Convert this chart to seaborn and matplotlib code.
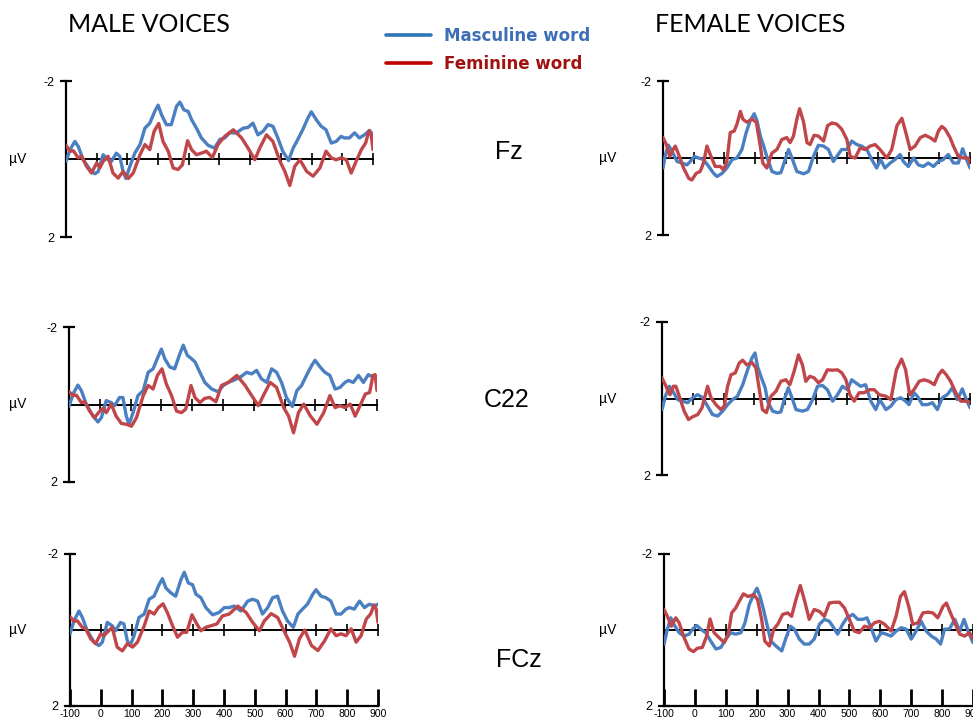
import matplotlib
matplotlib.use("Agg")
import matplotlib.pyplot as plt
from matplotlib.lines import Line2D
import numpy as np
import pandas as pd
import seaborn as sns

sns.set_theme(style="white", rc={"axes.edgecolor": "black", "xtick.color": "black",
                                 "ytick.color": "black", "text.color": "black"})
plt.rcParams["font.family"] = ["Liberation Sans", "DejaVu Sans"]

# ---------------- data (µV, negative plotted up) ----------------
conditions = ["Masculine word", "Feminine word"]
electrodes = ["Fz", "C22", "FCz"]
voice_titles = ["MALE VOICES", "FEMALE VOICES"]
tick_times = list(range(-100, 1000, 100))

left_masc_t = [-100, -87, -71, -60, -44, -22, -6, 5, 21, 37, 48, 64, 75, 86, 95, 108, 124, 141, 157, 173,
               189, 200, 211, 227, 243, 260, 271, 284, 298, 309, 325, 341, 363, 384, 401, 417, 433, 455, 477, 493,
               509, 525, 542, 558, 574, 590, 606, 625, 640, 655, 671, 688, 699, 715, 731, 747, 764, 780, 796, 807,
               823, 840, 856, 872, 889, 900]
left_fem_t = [-100, -87, -76, -60, -49, -33, -17, 0, 10, 21, 37, 53, 70, 86, 103, 119, 141, 157, 173, 187,
              202, 216, 233, 249, 265, 279, 296, 309, 325, 341, 357, 377, 395, 417, 445, 472, 493, 515, 531, 553,
              574, 597, 613, 629, 645, 662, 684, 705, 727, 747, 764, 780, 796, 813, 829, 845, 862, 876, 887, 894, 900]

male_fz_masc = [0.06, -0.24, -0.45, -0.32, 0.02, 0.27, 0.38, 0.32, -0.11, 0.02, 0.06, -0.15, -0.07, 0.32, 0.50,
                0.19, -0.15, -0.37, -0.79, -0.92, -1.22, -1.38, -1.14, -0.88, -0.88, -1.35, -1.46, -1.26, -1.22,
                -1.01, -0.79, -0.54, -0.35, -0.28, -0.50, -0.54, -0.67, -0.67, -0.79, -0.81, -0.92, -0.62, -0.71,
                -0.88, -0.84, -0.54, -0.20, 0.04, -0.28, -0.50, -0.75, -1.05, -1.21, -1.01, -0.84, -0.75, -0.41,
                -0.45, -0.58, -0.54, -0.54, -0.67, -0.54, -0.62, -0.73, -0.62]
male_fz_fem = [-0.35, -0.20, -0.21, -0.03, -0.07, 0.19, 0.36, 0.10, 0.23, 0.06, -0.07, 0.36, 0.49, 0.32, 0.50,
               0.36, -0.11, -0.37, -0.24, -0.71, -0.91, -0.45, -0.20, 0.23, 0.27, 0.15, -0.47, -0.24, -0.11, -0.15,
               -0.20, -0.04, -0.37, -0.58, -0.75, -0.54, -0.28, 0.02, -0.28, -0.62, -0.45, 0.06, 0.32, 0.68, 0.19,
               0.02, 0.32, 0.44, 0.23, -0.20, -0.03, 0.02, -0.03, 0.02, 0.36, 0.06, -0.24, -0.41, -0.73, -0.62, -0.24]

male_c22_masc = [0.05, -0.27, -0.50, -0.36, -0.01, 0.30, 0.45, 0.34, -0.10, -0.05, 0.03, -0.18, -0.18, 0.30, 0.51,
                 0.21, -0.23, -0.36, -0.83, -0.92, -1.23, -1.43, -1.18, -0.97, -0.92, -1.31, -1.53, -1.27, -1.18,
                 -1.10, -0.83, -0.57, -0.40, -0.33, -0.49, -0.57, -0.62, -0.70, -0.83, -0.79, -0.88, -0.66, -0.57,
                 -0.92, -0.83, -0.57, -0.18, 0.05, -0.36, -0.49, -0.75, -1.01, -1.14, -0.97, -0.83, -0.75, -0.40,
                 -0.44, -0.57, -0.62, -0.57, -0.75, -0.57, -0.77, -0.70, -0.70]
male_c22_fem = [-0.33, -0.23, -0.24, -0.05, -0.07, 0.17, 0.34, 0.17, 0.10, 0.21, -0.01, 0.30, 0.49, 0.51, 0.56,
                0.34, -0.23, -0.49, -0.40, -0.75, -0.92, -0.53, -0.23, 0.17, 0.21, 0.12, -0.49, -0.18, -0.05, -0.16,
                -0.18, -0.07, -0.49, -0.57, -0.75, -0.49, -0.23, 0.03, -0.23, -0.57, -0.44, 0.08, 0.30, 0.73, 0.21,
                -0.01, 0.30, 0.51, 0.21, -0.23, 0.08, 0.03, 0.08, -0.01, 0.30, 0.03, -0.27, -0.31, -0.75, -0.77, -0.36]

male_fcz_masc = [0.10, -0.24, -0.50, -0.33, 0.02, 0.32, 0.41, 0.32, -0.20, -0.11, 0.02, -0.20, -0.16, 0.28, 0.41,
                 0.15, -0.33, -0.42, -0.81, -0.89, -1.19, -1.35, -1.11, -0.98, -0.89, -1.32, -1.52, -1.24, -1.19,
                 -0.94, -0.85, -0.59, -0.40, -0.46, -0.59, -0.59, -0.63, -0.50, -0.76, -0.81, -0.76, -0.42, -0.59,
                 -0.85, -0.89, -0.50, -0.24, -0.07, -0.42, -0.55, -0.68, -0.94, -1.06, -0.89, -0.85, -0.76, -0.42,
                 -0.42, -0.55, -0.59, -0.55, -0.76, -0.59, -0.68, -0.63, -0.68]
male_fcz_fem = [-0.35, -0.23, -0.24, -0.07, -0.03, 0.23, 0.36, 0.10, 0.15, 0.06, -0.07, 0.45, 0.55, 0.36, 0.45,
                0.32, -0.11, -0.50, -0.42, -0.59, -0.69, -0.46, -0.11, 0.19, 0.06, 0.06, -0.40, -0.20, 0.02, -0.07,
                -0.11, -0.16, -0.37, -0.42, -0.63, -0.46, -0.20, 0.02, -0.24, -0.43, -0.33, 0.06, 0.32, 0.69, 0.23,
                0.00, 0.41, 0.54, 0.28, -0.03, 0.15, 0.10, 0.15, -0.03, 0.32, 0.15, -0.29, -0.42, -0.66, -0.55, -0.20]

female_fz_masc_t = [-100, -92, -82, -71, -54, -38, -22, -11, 2, 16, 32, 49, 65, 76, 92, 108, 125, 141, 157, 171,
                    184, 197, 206, 217, 228, 238, 255, 271, 284, 298, 309, 320, 336, 358, 374, 390, 406, 423, 439,
                    455, 466, 482, 499, 515, 531, 547, 564, 580, 596, 609, 623, 640, 656, 672, 683, 699, 716, 732,
                    748, 764, 781, 797, 813, 829, 846, 862, 876, 889, 900]
female_fz_masc = [0.26, -0.09, -0.33, -0.18, 0.09, 0.13, 0.18, 0.09, -0.04, 0.00, 0.04, 0.22, 0.40, 0.48, 0.40,
                  0.26, 0.04, 0.00, -0.22, -0.66, -0.97, -1.15, -0.97, -0.57, -0.31, -0.04, 0.35, 0.40, 0.38, 0.04,
                  -0.22, 0.00, 0.35, 0.41, 0.35, -0.04, -0.33, -0.31, -0.22, 0.09, -0.04, -0.22, -0.22, -0.44,
                  -0.35, -0.31, -0.22, 0.04, 0.26, 0.04, 0.26, 0.13, 0.04, -0.09, 0.09, 0.22, 0.00, 0.18, 0.22,
                  0.13, 0.22, 0.09, 0.04, -0.09, 0.13, 0.13, -0.24, 0.04, 0.26]
female_fz_fem_t = [-100, -89, -78, -67, -60, -49, -33, -16, -6, 8, 21, 32, 43, 54, 70, 87, 97, 108, 119, 132,
                   141, 152, 160, 173, 190, 204, 217, 225, 238, 255, 271, 287, 303, 314, 325, 336, 345, 358, 369,
                   379, 392, 406, 423, 436, 450, 466, 482, 499, 510, 526, 542, 558, 575, 591, 607, 629, 645, 662,
                   678, 688, 705, 721, 738, 754, 770, 786, 797, 808, 819, 835, 846, 862, 878, 895, 900]
female_fz_fem = [-0.53, -0.35, -0.04, -0.22, -0.31, -0.09, 0.26, 0.53, 0.57, 0.40, 0.35, 0.13, -0.31, -0.09, 0.22,
                 0.22, 0.31, 0.09, -0.66, -0.70, -0.88, -1.21, -1.01, -0.93, -1.01, -0.93, -0.31, 0.13, 0.26, -0.13,
                 -0.22, -0.48, -0.53, -0.40, -0.57, -1.01, -1.28, -0.93, -0.40, -0.35, -0.59, -0.57, -0.44, -0.84,
                 -0.91, -0.88, -0.75, -0.48, -0.04, 0.00, -0.26, -0.22, -0.31, -0.35, -0.22, 0.00, -0.22, -0.84,
                 -1.03, -0.75, -0.22, -0.31, -0.53, -0.59, -0.53, -0.44, -0.70, -0.82, -0.75, -0.53, -0.31, -0.04,
                 0.00, 0.00, 0.13]

female_c22_masc_t = [-100, -89, -76, -65, -49, -33, -17, -1, 16, 32, 48, 64, 81, 97, 113, 129, 145, 162, 178, 192,
                     202, 210, 221, 235, 243, 259, 275, 286, 297, 310, 322, 335, 356, 372, 389, 405, 421, 437, 454,
                     470, 486, 502, 516, 529, 545, 561, 578, 594, 607, 627, 643, 659, 675, 691, 702, 718, 729, 745,
                     762, 778, 794, 810, 826, 843, 859, 875, 886, 900]
female_c22_masc = [0.29, -0.06, -0.32, -0.19, 0.03, 0.07, 0.11, -0.02, -0.10, -0.02, 0.20, 0.42, 0.46, 0.33, 0.16,
                   0.03, -0.06, -0.36, -0.75, -1.06, -1.19, -0.84, -0.58, -0.28, 0.07, 0.33, 0.37, 0.35, 0.03,
                   -0.28, -0.02, 0.29, 0.33, 0.29, 0.03, -0.32, -0.34, -0.23, 0.07, -0.10, -0.32, -0.23, -0.49,
                   -0.41, -0.32, -0.36, 0.07, 0.29, 0.03, 0.29, 0.20, 0.03, -0.02, 0.07, 0.16, -0.15, -0.06, 0.16,
                   0.16, 0.11, 0.29, -0.02, -0.10, -0.28, 0.03, -0.25, -0.02, 0.24]
female_c22_fem_t = [-100, -87, -74, -63, -55, -44, -28, -14, -1, 16, 30, 41, 48, 59, 75, 91, 102, 113, 124, 138,
                    151, 162, 175, 192, 205, 216, 226, 239, 254, 270, 286, 302, 315, 329, 343, 356, 367, 380, 394,
                    408, 421, 437, 454, 470, 484, 497, 510, 524, 540, 556, 573, 589, 605, 627, 643, 661, 678, 691,
                    704, 718, 735, 751, 767, 784, 798, 810, 823, 837, 854, 870, 886, 900]
female_c22_fem = [-0.54, -0.32, -0.10, -0.32, -0.32, -0.06, 0.33, 0.55, 0.48, 0.42, 0.24, -0.10, -0.32, -0.02, 0.16,
                  0.29, 0.20, -0.32, -0.62, -0.67, -0.93, -1.00, -0.88, -0.94, -0.80, -0.23, 0.29, 0.37, -0.06,
                  -0.19, -0.45, -0.49, -0.36, -0.71, -1.14, -0.88, -0.45, -0.58, -0.54, -0.41, -0.49, -0.75, -0.74,
                  -0.75, -0.67, -0.49, -0.10, 0.07, -0.15, -0.15, -0.23, -0.23, -0.10, -0.06, 0.03, -0.75, -1.03,
                  -0.75, -0.10, -0.23, -0.45, -0.49, -0.45, -0.36, -0.62, -0.74, -0.62, -0.45, -0.15, 0.07, 0.07, 0.11]

female_fcz_masc_t = [-100, -89, -78, -68, -51, -35, -19, -8, 6, 19, 35, 51, 68, 84, 100, 116, 132, 149, 162, 176,
                     192, 201, 211, 222, 233, 246, 262, 281, 295, 309, 322, 338, 354, 370, 386, 403, 419, 435, 449,
                     462, 478, 492, 511, 527, 543, 557, 570, 586, 603, 619, 635, 651, 668, 684, 700, 716, 732, 749,
                     765, 781, 795, 808, 824, 841, 857, 871, 884, 900]
female_fcz_masc = [0.37, -0.02, -0.32, -0.15, 0.07, 0.16, 0.11, -0.02, -0.12, -0.02, 0.07, 0.29, 0.50, 0.46, 0.24,
                   0.07, 0.11, 0.07, -0.19, -0.67, -0.97, -1.10, -0.88, -0.54, -0.15, 0.29, 0.42, 0.55, 0.20, -0.10,
                   -0.02, 0.24, 0.37, 0.37, 0.24, -0.15, -0.28, -0.23, -0.06, 0.11, -0.15, -0.32, -0.41, -0.28,
                   -0.28, -0.32, -0.06, 0.29, 0.07, 0.11, 0.16, 0.03, -0.06, -0.02, 0.24, 0.03, -0.23, 0.03, 0.16,
                   0.24, 0.37, -0.02, -0.03, -0.28, 0.03, -0.28, 0.03, 0.33]
female_fcz_fem_t = [-100, -89, -76, -62, -51, -35, -19, -5, 8, 24, 38, 49, 62, 78, 95, 108, 119, 132, 143, 157,
                    172, 190, 203, 216, 226, 241, 255, 268, 284, 300, 313, 327, 341, 354, 370, 386, 403, 419, 435,
                    451, 468, 484, 500, 516, 532, 549, 565, 581, 597, 614, 635, 651, 665, 678, 692, 705, 722, 738,
                    754, 770, 786, 803, 814, 827, 843, 857, 873, 889, 900]
female_fcz_fem = [-0.54, -0.36, -0.10, -0.32, -0.19, 0.20, 0.50, 0.57, 0.48, 0.46, 0.16, -0.29, 0.07, 0.20, 0.33,
                  0.11, -0.45, -0.58, -0.75, -0.95, -0.88, -0.93, -0.80, -0.28, 0.29, 0.42, -0.02, -0.15, -0.41,
                  -0.45, -0.36, -0.80, -1.17, -0.80, -0.28, -0.54, -0.49, -0.36, -0.71, -0.73, -0.73, -0.58, -0.28,
                  0.03, 0.07, -0.10, -0.06, -0.19, -0.23, -0.15, 0.03, -0.36, -0.88, -1.01, -0.62, -0.15, -0.19,
                  -0.45, -0.47, -0.45, -0.32, -0.62, -0.71, -0.45, -0.15, 0.11, 0.16, 0.07, 0.24]

panels = [
    # (row, col, masc_t, masc, fem_t, fem)
    (0, 0, left_masc_t, male_fz_masc, left_fem_t, male_fz_fem),
    (1, 0, left_masc_t, male_c22_masc, left_fem_t, male_c22_fem),
    (2, 0, left_masc_t, male_fcz_masc, left_fem_t, male_fcz_fem),
    (0, 1, female_fz_masc_t, female_fz_masc, female_fz_fem_t, female_fz_fem),
    (1, 1, female_c22_masc_t, female_c22_masc, female_c22_fem_t, female_c22_fem),
    (2, 1, female_fcz_masc_t, female_fcz_masc, female_fcz_fem_t, female_fcz_fem),
]

# ---------------- layout (pixel boxes: left, right, top(-2), bottom(2)) ----------------
W, H = 973, 724
boxes = {
    (0, 0): (66, 373, 81, 237), (1, 0): (69, 377, 327, 482), (2, 0): (70, 378, 554, 706),
    (0, 1): (663, 970, 81, 235), (1, 1): (662, 970, 322, 475), (2, 1): (664, 973, 554, 706),
}
curve_colors = {"Masculine word": "#4a7fc1", "Feminine word": "#c0464a"}

fig = plt.figure(figsize=(W / 100, H / 100), dpi=100)

for row, col, mt, mv, ft, fv in panels:
    l, r, t, b = boxes[(row, col)]
    ax = fig.add_axes([l / W, 1 - b / H, (r - l) / W, (b - t) / H])
    ax.patch.set_alpha(0)
    df = pd.concat([
        pd.DataFrame({"time": mt, "uv": mv, "word": conditions[0]}),
        pd.DataFrame({"time": ft, "uv": fv, "word": conditions[1]}),
    ])
    sns.lineplot(data=df, x="time", y="uv", hue="word", palette=curve_colors, estimator=None,
                 sort=False, linewidth=2.4, legend=False, ax=ax, zorder=3)
    ax.set_xlim(-100, 900)
    ax.set_ylim(2, -2)
    ax.set_xlabel("")
    ax.set_ylabel("")
    ax.grid(False)
    for s in ["top", "right"]:
        ax.spines[s].set_visible(False)
    ax.spines["left"].set_linewidth(1.6)
    ax.spines["left"].set_color("black")
    ax.spines["bottom"].set_position(("data", 0))
    ax.spines["bottom"].set_linewidth(1.4)
    ax.spines["bottom"].set_color("black")
    ax.set_yticks([-2, 2])
    ax.set_yticklabels(["-2", "2"])
    ax.tick_params(axis="y", direction="inout", length=9, width=1.6, labelsize=9, pad=4, left=True)
    ax.set_xticks(tick_times)
    ax.tick_params(axis="x", direction="inout", length=8, width=1.2, labelbottom=False, bottom=True)
    if row == 2:
        sec = ax.secondary_xaxis("bottom")
        sec.set_xticks(tick_times)
        sec.set_xticklabels([str(v) for v in tick_times])
        sec.tick_params(direction="in", length=12, width=2, labelsize=7.5, pad=2, bottom=True)
        sec.spines["bottom"].set_linewidth(1.6)
        sec.spines["bottom"].set_color("black")
    # µV label
    zero_y = (t + b) / 2
    fig.text((18 if col == 0 else 608) / W, 1 - zero_y / H, "µV", fontsize=10,
             ha="center", va="center")

# titles
fig.text(68 / W, 1 - 25 / H, voice_titles[0], fontsize=18, family=["Lato", "DejaVu Sans"],
         ha="left", va="center")
fig.text(655 / W, 1 - 25 / H, voice_titles[1], fontsize=18, family=["Lato", "DejaVu Sans"],
         ha="left", va="center")

# electrode labels
for name, (x, y) in zip(electrodes, [(509, 152), (507, 400), (519, 660)]):
    fig.text(x / W, 1 - y / H, name, fontsize=18, ha="center", va="center")

# legend
handles = [Line2D([], [], color="#2e75b6", lw=2.6), Line2D([], [], color="#c00000", lw=2.6)]
leg = fig.legend(handles, conditions, loc="upper left", bbox_to_anchor=(386 / W, 1 - 27 / H),
                 frameon=False, prop={"family": "DejaVu Sans", "weight": "bold", "size": 12},
                 handlelength=2.7, handletextpad=0.8, labelspacing=0.6, borderpad=0, borderaxespad=0)
for txt, c in zip(leg.get_texts(), ["#3d6fb6", "#a0120f"]):
    txt.set_color(c)

fig.savefig("out.png", dpi=100)
